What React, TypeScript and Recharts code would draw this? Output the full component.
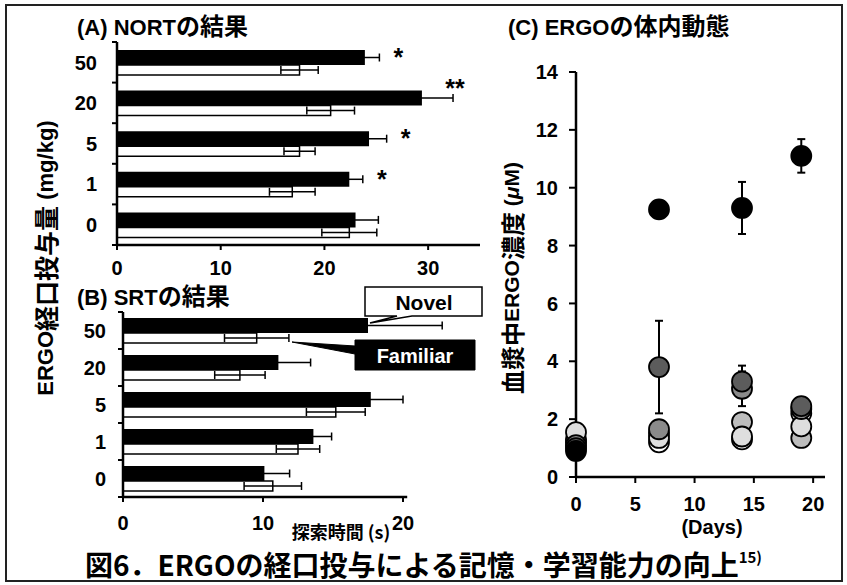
import React from "react";
import {
  BarChart,
  Bar,
  XAxis,
  YAxis,
  ErrorBar,
  LabelList,
  ScatterChart,
  Scatter,
} from "recharts";

// ---- data ----
const doses = ["50", "20", "5", "1", "0"];

// (A) NORT
const nortNovel = [23.9, 29.4, 24.3, 22.4, 23.0];
const nortNovelErr = [1.4, 3.0, 1.7, 1.3, 2.2];
const nortFamiliar = [17.6, 20.6, 17.6, 16.9, 22.4];
const nortFamiliarErr = [1.8, 2.3, 1.5, 2.2, 2.65];
const nortSig = ["*", "**", "*", "*", ""];
const nortTicks = [0, 10, 20, 30];

// (B) SRT
const srtNovel = [17.5, 11.1, 17.7, 13.6, 10.1];
const srtNovelErr = [5.3, 2.3, 2.3, 1.3, 1.8];
const srtFamiliar = [9.55, 8.35, 15.2, 12.5, 10.7];
const srtFamiliarErr = [2.3, 1.8, 2.1, 1.55, 2.05];
const srtSig = ["", "", "", "", ""];
const srtTicks = [0, 10, 20];

// (C) plasma ERGO
const days = [0, 7, 14, 19];
const dayTicks = [0, 5, 10, 15, 20];
const concTicks = [0, 2, 4, 6, 8, 10, 12, 14];
const concWhite = [1.2, 1.2, 1.3, 2.2];
const concWhiteErr = [0, 0, 0, 0];
const concPale = [1.55, 1.35, 1.4, 1.75];
const concPaleErr = [0, 0, 0, 0];
const concLight = [1.3, 1.5, 1.9, 1.35];
const concLightErr = [0, 0, 0, 0];
const concMid = [1.1, 1.65, 3.05, 2.35];
const concMidErr = [0, 0, 0.6, 0];
const concDark = [1.0, 3.8, 3.3, 2.45];
const concDarkErr = [0, 1.6, 0.55, 0.3];
const concBlack = [0.9, 9.25, 9.3, 11.1];
const concBlackErr = [0, 0, 0.9, 0.58];

const LAT = "'Liberation Sans', Arial, 'Noto Sans CJK JP', sans-serif";
const JP = "'Noto Sans CJK JP', sans-serif";

const tickText = { fill: "#000", fontSize: 20, fontWeight: 700, fontFamily: LAT };
const axisStroke = { stroke: "#000", strokeWidth: 2.5 };
const tickStroke = { stroke: "#000", strokeWidth: 2 };

function buildRows(nov: number[], novErr: number[], fam: number[], famErr: number[], sig: string[]) {
  return doses.map((d, i) => ({
    dose: d,
    novel: nov[i],
    novelErr: novErr[i],
    familiar: fam[i],
    familiarErr: famErr[i],
    sig: sig[i],
  }));
}

const nortRows = buildRows(nortNovel, nortNovelErr, nortFamiliar, nortFamiliarErr, nortSig);
const srtRows = buildRows(srtNovel, srtNovelErr, srtFamiliar, srtFamiliarErr, srtSig);

function DoseBars(props: {
  rows: any[];
  width: number;
  height: number;
  top: number;
  axisX: number;
  right: number;
  bottom: number;
  domain: [number, number];
  ticks: number[];
  labelGap: number;
  tickMargin: number;
  axisLen?: number;
}) {
  const { rows, width, height, top, axisX, right, bottom, domain, ticks, labelGap, tickMargin } = props;
  const plotH = height - top - bottom - 30;
  const half = plotH / rows.length / 2;
  const plotW = width - axisX - right;
  const dash = props.axisLen ? `${(props.axisLen / domain[1]) * plotW} 2000` : undefined;

  const doseTick = (p: any) => {
    const y = Number(p.y);
    const last = p.index === rows.length - 1;
    return (
      <g>
        <line x1={axisX - 5} x2={axisX} y1={y - half} y2={y - half} stroke="#000" strokeWidth={2} />
        {last && <line x1={axisX - 5} x2={axisX} y1={y + half} y2={y + half} stroke="#000" strokeWidth={2} />}
        <text x={axisX - labelGap} y={y} dy="0.36em" textAnchor="end" {...tickText}>
          {p.payload.value}
        </text>
      </g>
    );
  };

  const stars = (p: any) => {
    if (!p.value) return null;
    const r = rows[p.index];
    const x = Number(p.x);
    const w = Number(p.width);
    const y = Number(p.y);
    const errEnd = x + w + r.novelErr * (w / r.novel);
    const dbl = String(p.value).length > 1;
    return (
      <text
        x={errEnd + (dbl ? 2 : 19)}
        y={y + (dbl ? 6 : 16)}
        textAnchor="middle"
        fontSize={25}
        fontWeight={700}
        fontFamily={LAT}
        fill="#000"
      >
        {p.value}
      </text>
    );
  };

  return (
    <BarChart
      layout="vertical"
      width={width}
      height={height}
      data={rows}
      margin={{ top, right, bottom, left: 0 }}
      barGap={0}
      barCategoryGap={0}
    >
      <XAxis
        type="number"
        domain={domain}
        ticks={ticks}
        height={30}
        tickSize={5}
        tickMargin={tickMargin}
        axisLine={{ ...axisStroke, strokeDasharray: dash }}
        tickLine={tickStroke}
        tick={tickText}
      />
      <YAxis
        type="category"
        dataKey="dose"
        width={axisX}
        tickLine={false}
        axisLine={axisStroke}
        tick={doseTick}
        interval={0}
      />
      <Bar dataKey="novel" fill="#000" barSize={15} isAnimationActive={false}>
        <ErrorBar dataKey="novelErr" direction="x" width={4} stroke="#000" strokeWidth={1.5} />
        <LabelList dataKey="sig" content={stars} />
      </Bar>
      <Bar dataKey="familiar" fill="#fff" stroke="#000" strokeWidth={1.5} barSize={10} isAnimationActive={false}>
        <ErrorBar dataKey="familiarErr" direction="x" width={4} stroke="#000" strokeWidth={1.5} />
      </Bar>
    </BarChart>
  );
}

const groups = [
  { fill: "#ffffff", vals: concWhite, errs: concWhiteErr },
  { fill: "#bdbdbd", vals: concLight, errs: concLightErr },
  { fill: "#dedede", vals: concPale, errs: concPaleErr },
  { fill: "#8a8a8a", vals: concMid, errs: concMidErr },
  { fill: "#5c5c5c", vals: concDark, errs: concDarkErr },
  { fill: "#000000", vals: concBlack, errs: concBlackErr },
];

function ErgoScatter() {
  return (
    <ScatterChart width={357} height={540} margin={{ top: 72, right: 22, bottom: 23, left: 0 }}>
      <XAxis
        type="number"
        dataKey="day"
        domain={[0, 21]}
        ticks={dayTicks}
        height={40}
        tickSize={6}
        tickMargin={14}
        axisLine={axisStroke}
        tickLine={tickStroke}
        tick={tickText}
      />
      <YAxis
        type="number"
        dataKey="conc"
        domain={[0, 14]}
        ticks={concTicks}
        width={86}
        tickSize={7}
        tickMargin={11}
        axisLine={axisStroke}
        tickLine={tickStroke}
        tick={tickText}
      />
      {groups.map((g, gi) => (
        <Scatter
          key={gi}
          data={days.map((d, i) => ({ day: d, conc: g.vals[i], err: g.errs[i] }))}
          isAnimationActive={false}
          shape={(p: any) => (
            <circle cx={p.cx} cy={p.cy} r={10} fill={g.fill} stroke="#000" strokeWidth={1.8} />
          )}
        >
          <ErrorBar dataKey="err" direction="y" width={4} stroke="#000" strokeWidth={2} />
        </Scatter>
      ))}
    </ScatterChart>
  );
}

export default function App() {
  return (
    <div
      style={{
        position: "absolute",
        left: 0,
        top: 0,
        width: 847,
        height: 585,
        background: "#fff",
        overflow: "hidden",
      }}
    >
      <div style={{ position: "absolute", left: 0, top: 0 }}>
        <DoseBars
          rows={nortRows}
          width={500}
          height={290}
          top={42}
          axisX={117}
          right={20}
          bottom={15}
          domain={[0, 35]}
          ticks={nortTicks}
          labelGap={20}
          tickMargin={11}
        />
      </div>
      <div style={{ position: "absolute", left: 0, top: 270 }}>
        <DoseBars
          rows={srtRows}
          width={500}
          height={270}
          top={42}
          axisX={123}
          right={27}
          bottom={13}
          domain={[0, 25]}
          ticks={srtTicks}
          labelGap={17}
          tickMargin={14}
          axisLen={20.3}
        />
      </div>
      <div style={{ position: "absolute", left: 490, top: 0 }}>
        <ErgoScatter />
      </div>

      <svg
        width={847}
        height={585}
        style={{ position: "absolute", left: 0, top: 0, pointerEvents: "none" }}
      >
        <rect x={6} y={5} width={836} height={576} fill="none" stroke="#222" strokeWidth={2} />

        <text x={77} y={35} fontSize={22} fontWeight={700} fontFamily={LAT} fill="#000">
          (A) NORT<tspan fontFamily={JP} fontSize={24}>の結果</tspan>
        </text>
        <text x={77} y={305} fontSize={22} fontWeight={700} fontFamily={LAT} fill="#000">
          (B) SRT<tspan fontFamily={JP} fontSize={24}>の結果</tspan>
        </text>
        <text x={508} y={35} fontSize={22} fontWeight={700} fontFamily={LAT} fill="#000">
          (C) ERGO<tspan fontFamily={JP} fontSize={24}>の体内動態</tspan>
        </text>

        <text
          transform="translate(45,258) rotate(-90)"
          textAnchor="middle"
          dominantBaseline="central"
          fontSize={22}
          fontWeight={700}
          fontFamily={LAT}
          fill="#000"
        >
          ERGO<tspan fontFamily={JP} fontSize={25}>経口投与量</tspan> (mg/kg)
        </text>
        <text
          transform="translate(511,278) rotate(-90)"
          textAnchor="middle"
          dominantBaseline="central"
          fontSize={21}
          fontWeight={700}
          fontFamily={LAT}
          fill="#000"
        >
          <tspan fontFamily={JP} fontSize={24}>血漿中</tspan>ERGO
          <tspan fontFamily={JP} fontSize={24}>濃度</tspan> (<tspan fontStyle="italic">μ</tspan>M)
        </text>

        <text x={341} y={531} textAnchor="middle" dominantBaseline="central" fontSize={18} fontWeight={700} fontFamily={JP} fill="#000">
          探索時間 (s)
        </text>
        <text x={712} y={527} textAnchor="middle" dominantBaseline="central" fontSize={20} fontWeight={700} fontFamily={LAT} fill="#000">
          (Days)
        </text>

        {/* legend callouts */}
        <path
          d="M365,287 H482 V316 H412 L370,323 L397,316 H365 Z"
          fill="#fff"
          stroke="#000"
          strokeWidth={1.5}
        />
        <text x={424} y={302} textAnchor="middle" dominantBaseline="central" fontSize={21} fontWeight={700} fontFamily={LAT} fill="#000">
          Novel
        </text>
        <path d="M355,340 H475 V370 H355 V354 L292,342 L355,346 Z" fill="#000" stroke="#000" strokeWidth={1} />
        <text x={415} y={356} textAnchor="middle" dominantBaseline="central" fontSize={20} fontWeight={700} fontFamily={LAT} fill="#fff">
          Familiar
        </text>

        <text x={85} y={576} fontSize={28} fontWeight={700} fontFamily={JP} fill="#000">
          図6．ERGOの経口投与による記憶・学習能力の向上
          <tspan fontSize={15} dy={-13}>15)</tspan>
        </text>
      </svg>
    </div>
  );
}
